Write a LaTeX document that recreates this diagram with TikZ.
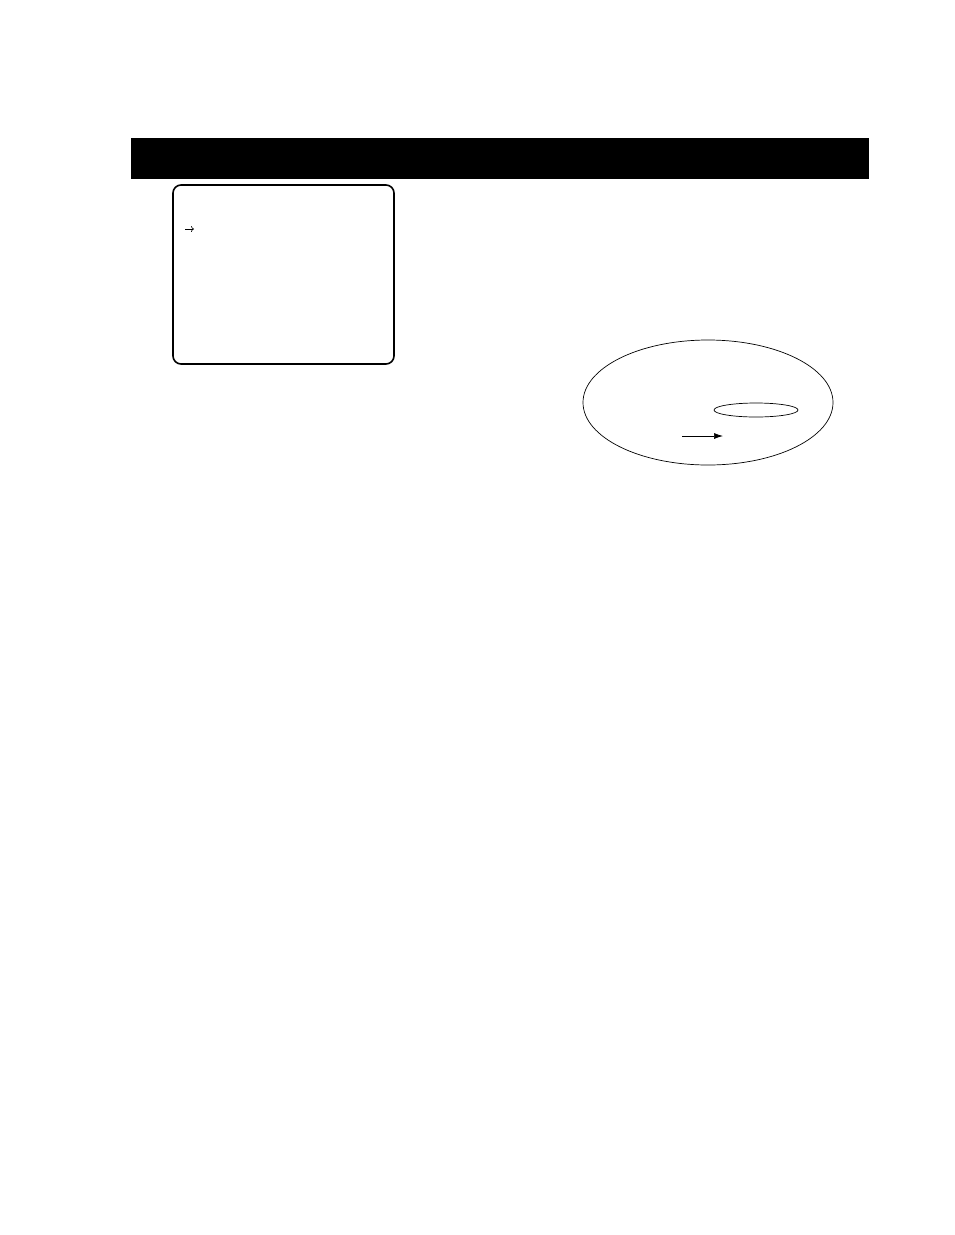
\documentclass[tikz,border=0pt]{standalone}
\usetikzlibrary{arrows.meta,positioning,shapes}

\begin{document}
\begin{tikzpicture}[x=1pt,y=-1pt]
    \useasboundingbox (0,0) rectangle (954,1235);
    \fill (131,138) rectangle (869,179);
    \draw[line width=1.6pt,rounded corners=8pt] (173,185) rectangle (394,364);
    \coordinate (s1) at (185,229);
    \coordinate (s2) at (194,229);
    \draw[-{To[length=3pt,width=6pt]},line width=0.6pt] (s1) -- (s2);
    \node[ellipse,draw,line width=0.7pt,minimum width=250pt,minimum height=125pt,inner sep=0pt] (disc) at (708,402.5) {};
    \node[ellipse,draw,line width=0.7pt,minimum width=84pt,minimum height=14pt,inner sep=0pt] (spot) at (756,410) {};
    \coordinate (a1) at (682,436);
    \coordinate (a2) at (723,436);
    \draw[-{Latex[length=9pt,width=6pt]},line width=0.7pt] (a1) -- (a2);
\end{tikzpicture}
\end{document}
